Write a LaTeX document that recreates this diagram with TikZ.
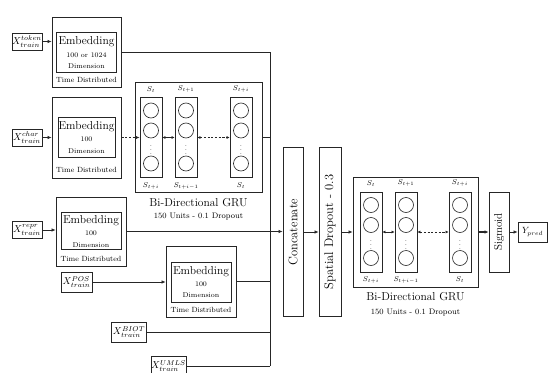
\documentclass[tikz,border=0pt]{standalone}
\usepackage{graphicx}
\usepackage{tikz}
\usetikzlibrary{arrows.meta, positioning, calc}

\newcommand{\embfont}{\fontsize{11.5}{13}\selectfont}
\newcommand{\dimfont}{\fontsize{7}{8}\selectfont}
\newcommand{\tdfont}{\fontsize{7.5}{9}\selectfont}
\newcommand{\gfont}{\fontsize{12.5}{14}\selectfont}
\newcommand{\sfont}{\fontsize{7.5}{9}\selectfont}

\tikzset{
  blk/.style={draw=black!85, line width=0.8pt, inner sep=0pt},
  inbox/.style={blk, fill=white, font=\fontsize{10}{11}\selectfont},
  col/.style={blk, minimum width=22pt, minimum height=80pt},
  cell/.style={circle, draw=black!85, line width=0.6pt, minimum size=15pt, inner sep=0pt},
  arr/.style={-{Latex[length=4pt,width=3.5pt]}, line width=0.7pt, draw=black!85},
  dbl/.style={{Latex[length=3pt,width=3pt]}-{Latex[length=3pt,width=3pt]}, line width=0.6pt, draw=black!85},
  dsh/.style={dash pattern=on 2.2pt off 1.5pt},
  wire/.style={line width=0.7pt, draw=black!85},
}

\begin{document}
\begin{tikzpicture}[x=1pt, y=-1pt]
\fill[white] (0,0) rectangle (548,372);
\path[use as bounding box, clip] (0,0) rectangle (548,372);

% inputs
\node[inbox, minimum width=30pt, minimum height=17pt] (xtok) at (27,41.5) {$X^{token}_{train}$};
\node[inbox, minimum width=30pt, minimum height=17pt] (xchar) at (27,137.5) {$X^{char}_{train}$};
\node[inbox, minimum width=30pt, minimum height=17pt] (xrep) at (27,230) {$X^{repr}_{train}$};
\node[inbox, minimum width=31pt, minimum height=20pt] (xpos) at (76.5,282) {$X^{POS}_{train}$};
\node[inbox, minimum width=35pt, minimum height=20pt] (xbiot) at (129,332) {$X^{BIOT}_{train}$};
\node[inbox, minimum width=35pt, minimum height=20pt] (xumls) at (168.5,366) {$X^{UMLS}_{train}$};

% embedding 1
\node[blk, minimum width=69pt, minimum height=70pt] (emb1) at (86.5,52) {};
\node[blk, minimum width=60pt, minimum height=40pt] (emb1in) at (86.5,52) {};
\node[font=\embfont] (emb1a) at (86.5,42) {Embedding};
\node[font=\dimfont] (emb1b) at (86.5,55) {100 or 1024};
\node[font=\dimfont] (emb1c) at (86.5,66) {Dimension};
\node[font=\tdfont] (emb1d) at (86.5,80) {Time Distributed};

% embedding 2
\node[blk, minimum width=69pt, minimum height=81pt] (emb2) at (86.5,137.5) {};
\node[blk, minimum width=57pt, minimum height=40pt] (emb2in) at (86.5,137) {};
\node[font=\embfont] (emb2a) at (86.5,127) {Embedding};
\node[font=\dimfont] (emb2b) at (86.5,139) {100};
\node[font=\dimfont] (emb2c) at (86.5,151) {Dimension};
\node[font=\tdfont] (emb2d) at (86.5,170) {Time Distributed};

% embedding 3
\node[blk, minimum width=70pt, minimum height=69pt] (emb3) at (91,231.5) {};
\node[blk, minimum width=60pt, minimum height=37pt] (emb3in) at (91,230.5) {};
\node[font=\embfont] (emb3a) at (91,221) {Embedding};
\node[font=\dimfont] (emb3b) at (91,233) {100};
\node[font=\dimfont] (emb3c) at (91,245) {Dimension};
\node[font=\tdfont] (emb3d) at (91,259) {Time Distributed};

% embedding 4
\node[blk, minimum width=70pt, minimum height=71pt] (emb4) at (201,281.5) {};
\node[blk, minimum width=60pt, minimum height=40pt] (emb4in) at (201,282) {};
\node[font=\embfont] (emb4a) at (201,272) {Embedding};
\node[font=\dimfont] (emb4b) at (201,284) {100};
\node[font=\dimfont] (emb4c) at (201,295) {Dimension};
\node[font=\tdfont] (emb4d) at (201,310) {Time Distributed};

% first GRU
\node[blk, minimum width=127pt, minimum height=110pt] (gru1) at (198.5,137) {};
\node[col] (g1c1) at (151,137.5) {};
\node[col] (g1c2) at (186,137.5) {};
\node[col] (g1c3) at (241,137.5) {};
\foreach \c in {g1c1,g1c2,g1c3} {
  \node[cell] (\c-1) at ($(\c)+(0,-27)$) {};
  \node[cell] (\c-2) at ($(\c)+(0,-7)$) {};
  \node[cell] (\c-3) at ($(\c)+(0,26)$) {};
  \node[font=\dimfont, inner sep=0pt] (\c-d) at ($(\c)+(0,10)$) {$\vdots$};
}
\node[font=\sfont, above=1.5pt of g1c1] (g1c1t) {$S_t$};
\node[font=\sfont, above=1.5pt of g1c2] (g1c2t) {$S_{t+1}$};
\node[font=\sfont, above=1.5pt of g1c3] (g1c3t) {$S_{t+i}$};
\node[font=\sfont, below=1pt of g1c1] (g1c1b) {$S_{t+i}$};
\node[font=\sfont, below=1pt of g1c2] (g1c2b) {$S_{t+i-1}$};
\node[font=\sfont, below=1pt of g1c3] (g1c3b) {$S_t$};
\node[font=\embfont] (gru1a) at (198.5,203) {Bi-Directional GRU};
\node[font=\fontsize{8}{9}\selectfont] (gru1b) at (198.5,217) {150 Units - 0.1 Dropout};

% concatenate and dropout
\node[blk, minimum width=20pt, minimum height=169pt, font=\gfont] (concat) at (293,232) {\rotatebox{90}{Concatenate}};
\node[blk, minimum width=22pt, minimum height=169pt, font=\gfont] (spdrop) at (330,232) {\rotatebox{90}{Spatial Dropout - 0.3}};

% second GRU
\node[blk, minimum width=125pt, minimum height=110pt] (gru2) at (415.5,232) {};
\node[col] (g2c1) at (371,232) {};
\node[col] (g2c2) at (406,232) {};
\node[col] (g2c3) at (460,232) {};
\foreach \c in {g2c1,g2c2,g2c3} {
  \node[cell] (\c-1) at ($(\c)+(0,-27)$) {};
  \node[cell] (\c-2) at ($(\c)+(0,-7)$) {};
  \node[cell] (\c-3) at ($(\c)+(0,26)$) {};
  \node[font=\dimfont, inner sep=0pt] (\c-d) at ($(\c)+(0,10)$) {$\vdots$};
}
\node[font=\sfont, above=1.5pt of g2c1] (g2c1t) {$S_t$};
\node[font=\sfont, above=1.5pt of g2c2] (g2c2t) {$S_{t+1}$};
\node[font=\sfont, above=1.5pt of g2c3] (g2c3t) {$S_{t+i}$};
\node[font=\sfont, below=1pt of g2c1] (g2c1b) {$S_{t+i}$};
\node[font=\sfont, below=1pt of g2c2] (g2c2b) {$S_{t+i-1}$};
\node[font=\sfont, below=1pt of g2c3] (g2c3b) {$S_t$};
\node[font=\embfont] (gru2a) at (415.5,297) {Bi-Directional GRU};
\node[font=\fontsize{8}{9}\selectfont] (gru2b) at (415.5,313) {150 Units - 0.1 Dropout};

% output
\node[blk, minimum width=20pt, minimum height=80pt, font=\fontsize{11}{12}\selectfont] (sigm) at (499,232) {\rotatebox{90}{Sigmoid}};
\node[inbox, minimum width=29pt, minimum height=20pt, font=\fontsize{9}{10}\selectfont] (ypred) at (532.5,232) {$Y_{pred}$};

% connectors
\coordinate (busS) at (270,366);
\draw[arr] (xtok) -- (xtok -| emb1.west);
\draw[wire] (emb1.east) -| (busS);
\draw[arr] (xchar) -- (xchar -| emb2.west);
\draw[arr, dsh] (emb2.east) -- (g1c1.west);
\draw[dbl] (g1c1.east) -- (g1c2.west);
\draw[dbl, dsh] (g1c2.east) -- (g1c3.west);
\draw[wire] (gru1.east) -- (gru1.east -| busS);
\draw[arr] (xrep) -- (xrep -| emb3.west);
\draw[arr] (emb3.east) -- (emb3.east -| concat.west);
\draw[arr] (xpos) -- (xpos -| emb4.west);
\draw[wire] (emb4.east) -- (emb4.east -| busS);
\draw[wire] (xbiot) -- (xbiot -| busS);
\draw[wire] (xumls) -- (busS);
\draw[arr] (concat) -- (spdrop);
\draw[arr] (spdrop) -- (gru2);
\draw[dbl] (g2c1.east) -- (g2c2.west);
\draw[dbl, dsh] (g2c2.east) -- (g2c3.west);
\draw[arr, line width=1.2pt] (gru2) -- (sigm);
\draw[arr] (sigm) -- (ypred);
\end{tikzpicture}
\end{document}
